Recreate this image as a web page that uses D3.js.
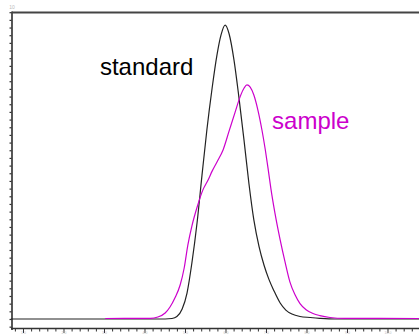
<!DOCTYPE html>
<html>
<head>
<meta charset="utf-8">
<script src="https://cdn.jsdelivr.net/npm/d3@7"></script>
<style>
  html, body { margin: 0; padding: 0; background: #fff; }
  svg { display: block; font-family: "Liberation Sans", Arial, sans-serif; }
</style>
</head>
<body>
<div id="chart"></div>
<script>
// retention time (x) and detector response (y)
const standardX = [0.70, 4.51, 4.68, 4.80, 4.93, 5.05, 5.17, 5.30, 5.42, 5.54, 5.67, 5.79, 5.89, 5.99,
  6.09, 6.21, 6.33, 6.46, 6.58, 6.70, 6.83, 6.95, 7.07, 7.20, 7.35, 7.49, 7.64, 7.84, 8.09, 8.33, 8.70, 10.78];
const standardY = [0, 0, 0.16, 0.81, 3.26, 8.47, 18.25, 31.6, 46.9, 61.6, 75.3, 86.1, 92.6, 95.8,
  92.9, 84.4, 72.4, 58.0, 44.0, 32.3, 23.5, 17.6, 13.0, 9.1, 5.2, 2.9, 1.6, 0.81, 0.49, 0.23, 0, 0];

const sampleX = [3.03, 4.14, 4.33, 4.51, 4.63, 4.75, 4.88, 4.98, 5.07, 5.17, 5.30, 5.44, 5.57, 5.67, 5.79,
  5.94, 6.09, 6.24, 6.36, 6.46, 6.53, 6.61, 6.70, 6.80, 6.90, 6.98, 7.05, 7.12, 7.22, 7.35, 7.47, 7.59,
  7.72, 7.84, 7.99, 8.16, 8.33, 8.58, 8.95, 10.78];
const sampleY = [0.16, 0.23, 0.65, 1.96, 3.91, 6.84, 11.08, 16.62, 24.1, 30.3, 36.5, 42.0, 45.3, 48.2, 51.2,
  55.1, 61.3, 67.5, 72.4, 75.3, 76.3, 75.6, 73.0, 68.1, 61.6, 55.4, 49.2, 42.6, 34.6, 25.8, 18.6, 12.1,
  7.8, 5.0, 3.0, 1.8, 1.1, 0.49, 0.20, 0.16];

const xMajorTicks = [1, 2, 3, 4, 5, 6, 7, 8, 9, 10];
const xTickLabels = ['1.0', '2.0', '3.0', '4.0', '5.0', '6.0', '7.0', '8.0', '9.0', '10.0'];

const seriesLabels = [
  { name: 'standard', x: 2.90, y: 79.4, color: '#000' },
  { name: 'sample', x: 7.15, y: 61.9, color: '#cc00cc' }
];

const width = 419, height = 335;

const svg = d3.select('#chart').append('svg')
  .attr('width', width)
  .attr('height', height);

const x = d3.scaleLinear().domain([0.7037, 10.778]).range([11, 419]);
const y = d3.scaleLinear().domain([-3, 100]).range([328.2, 12.2]);

// left axis, minor ticks only
const yTicks = d3.range(-2.5, 100.1, 2.5);
svg.append('g')
  .attr('transform', 'translate(12,0)')
  .call(d3.axisLeft(y).tickValues(yTicks).tickSize(2.5).tickFormat(''))
  .call(g => g.select('.domain').remove())
  .call(g => g.selectAll('line').attr('stroke', '#333').attr('stroke-width', 1.2));

// bottom axis: minor + major ticks
const xMinor = d3.range(0.8, 10.71, 0.2).filter(v => Math.abs(v - Math.round(v)) > 0.01);
svg.append('g')
  .attr('transform', 'translate(0,328.5)')
  .call(d3.axisBottom(x).tickValues(xMinor).tickSize(3).tickFormat(''))
  .call(g => g.select('.domain').remove())
  .call(g => g.selectAll('line').attr('stroke', '#333'));

const xMaj = svg.append('g')
  .attr('transform', 'translate(0,328.5)')
  .call(d3.axisBottom(x).tickValues(xMajorTicks).tickSize(4.5)
    .tickFormat((d, i) => xTickLabels[i]))
  .call(g => g.select('.domain').remove());
xMaj.selectAll('line').attr('stroke', '#333');
xMaj.selectAll('text')
  .attr('fill', '#bbb')
  .attr('font-size', 3.5)
  .attr('y', 5.4)
  .attr('dy', 0);

// frame
svg.append('line')
  .attr('x1', 12).attr('x2', 419).attr('y1', 12.5).attr('y2', 12.5)
  .attr('stroke', '#444').attr('stroke-width', 2);
svg.append('line')
  .attr('x1', 12).attr('x2', 12).attr('y1', 11.5).attr('y2', 330)
  .attr('stroke', '#444').attr('stroke-width', 1.8);
svg.append('line')
  .attr('x1', 11).attr('x2', 419).attr('y1', 328.5).attr('y2', 328.5)
  .attr('stroke', '#333').attr('stroke-width', 1.3);

svg.append('text')
  .attr('x', 12).attr('y', 9)
  .attr('text-anchor', 'middle')
  .attr('font-size', 5)
  .attr('fill', '#bbb')
  .text('10');

const line = d3.line()
  .x(d => x(d[0]))
  .y(d => y(d[1]))
  .curve(d3.curveMonotoneX);

const standard = standardX.map((v, i) => [v, standardY[i]]);
const sample = sampleX.map((v, i) => [v, sampleY[i]]);

svg.append('path')
  .datum(standard)
  .attr('d', line)
  .attr('fill', 'none')
  .attr('stroke', '#222')
  .attr('stroke-width', 1.2);

svg.append('path')
  .datum(sample)
  .attr('d', line)
  .attr('fill', 'none')
  .attr('stroke', '#cc00cc')
  .attr('stroke-width', 1.2);

svg.selectAll('.lbl')
  .data(seriesLabels)
  .enter()
  .append('text')
  .attr('class', 'lbl')
  .attr('x', d => x(d.x))
  .attr('y', d => y(d.y))
  .attr('font-size', 24)
  .attr('fill', d => d.color)
  .text(d => d.name);
</script>
</body>
</html>
